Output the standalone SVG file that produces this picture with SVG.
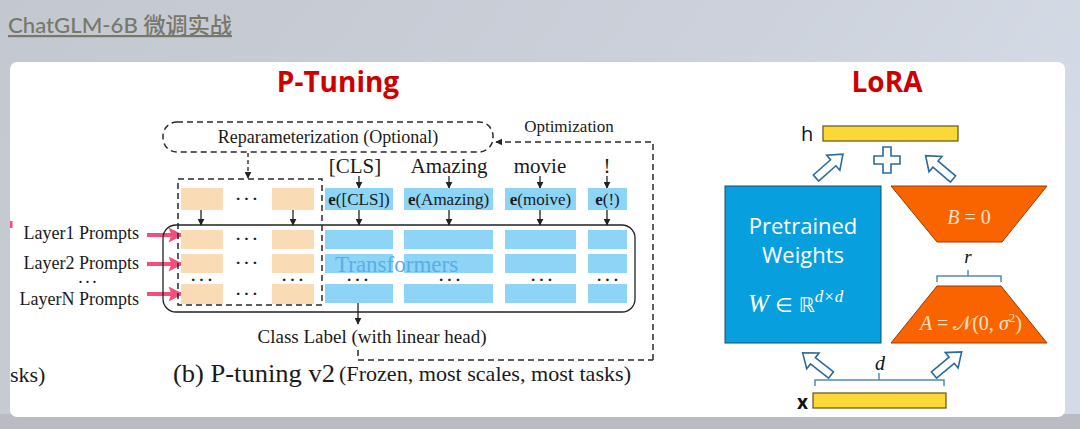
<svg xmlns="http://www.w3.org/2000/svg" width="1080" height="429" viewBox="0 0 1080 429">
<defs>
<linearGradient id="bg" x1="0" y1="0" x2="1" y2="0.3">
<stop offset="0" stop-color="#c3c7cf"/>
<stop offset="0.6" stop-color="#cbd0da"/>
<stop offset="1" stop-color="#d5dbe6"/>
</linearGradient>
<marker id="ah" viewBox="0 0 10 10" refX="9" refY="5" markerWidth="7" markerHeight="7" orient="auto" markerUnits="userSpaceOnUse">
<path d="M0,0 L10,5 L0,10 z" fill="#222"/>
</marker>
<marker id="pk" viewBox="0 0 10 10" refX="9" refY="5" markerWidth="16" markerHeight="15" orient="auto" markerUnits="userSpaceOnUse">
<path d="M0,0 L10,5 L0,10 L2,5 z" fill="#f0507a"/>
</marker>
<path id="blk" d="M0,-4 L23,-4 L23,-10 L36,0 L23,10 L23,4 L0,4 z"/>
</defs>
<style>
.serif{font-family:"Liberation Serif","Times New Roman",serif;fill:#1a1a1a}
.sans{font-family:"Open Sans","Noto Sans",sans-serif}
.dots{font-family:"Liberation Serif",serif;font-size:22px;letter-spacing:1px;fill:#1a1a1a;text-anchor:middle}
.dash{fill:none;stroke:#2a2a2a;stroke-width:1.5;stroke-dasharray:6 4}
.ln{fill:none;stroke:#222;stroke-width:1.3}
.blue{fill:#8dd4f6}
.peach{fill:#f9dcb6}
.pink{fill:none;stroke:#f0507a;stroke-width:4}
.hol{fill:#fff;stroke:#2c6a9c;stroke-width:1.6}
.trap{fill:#fa6400;stroke:#9a3a00;stroke-width:1}
.bar{fill:#fbd737;stroke:#6e6020;stroke-width:1.3}
.brace{fill:none;stroke:#5a86b8;stroke-width:1.5}
.mathw{font-family:"Liberation Serif","DejaVu Serif",serif;font-style:italic}
</style>
<rect x="0" y="0" width="1080" height="429" fill="url(#bg)"/>
<rect x="0" y="414" width="1080" height="15" fill="#b9bcc3"/>
<text x="8" y="33" font-family="Lato,'Noto Sans CJK SC',sans-serif" font-size="22" font-weight="500" fill="#78776a" text-decoration="underline" textLength="224" lengthAdjust="spacingAndGlyphs">ChatGLM-6B 微调实战</text>
<rect x="10" y="62" width="1055" height="355" rx="7" fill="#ffffff"/>

<text x="338" y="92" text-anchor="middle" font-family="'Open Sans','Noto Sans',sans-serif" font-weight="bold" font-size="28" fill="#cc0000">P-Tuning</text>
<text x="887" y="92" text-anchor="middle" font-family="'Open Sans','Noto Sans',sans-serif" font-weight="bold" font-size="28" fill="#cc0000">LoRA</text>

<g id="left-cut">
<rect x="10" y="221" width="2.5" height="7" fill="#f0507a"/>
<text x="10" y="382" class="serif" font-size="22">sks)</text>
</g>

<g id="connectors">
<line x1="248" y1="153" x2="248" y2="178" class="ln" stroke-dasharray="4 3" marker-end="url(#ah)"/>
<path d="M653,360 L653,142 L496,142" class="dash" marker-end="url(#ah)"/>
<path d="M358,350 L358,360 L653,360" class="dash"/>
<line x1="359" y1="176" x2="359" y2="188" class="ln" marker-end="url(#ah)"/>
<line x1="449" y1="176" x2="449" y2="188" class="ln" marker-end="url(#ah)"/>
<line x1="540" y1="176" x2="540" y2="188" class="ln" marker-end="url(#ah)"/>
<line x1="607" y1="176" x2="607" y2="188" class="ln" marker-end="url(#ah)"/>
<line x1="359" y1="210" x2="359" y2="225" class="ln" marker-end="url(#ah)"/>
<line x1="449" y1="210" x2="449" y2="225" class="ln" marker-end="url(#ah)"/>
<line x1="540" y1="210" x2="540" y2="225" class="ln" marker-end="url(#ah)"/>
<line x1="607" y1="210" x2="607" y2="225" class="ln" marker-end="url(#ah)"/>
<line x1="201" y1="210" x2="201" y2="225" class="ln" marker-end="url(#ah)"/>
<line x1="293" y1="210" x2="293" y2="225" class="ln" marker-end="url(#ah)"/>
<line x1="358" y1="303" x2="358" y2="324" class="ln" marker-end="url(#ah)"/>
<line x1="147" y1="235" x2="182" y2="235" class="pink" marker-end="url(#pk)"/>
<line x1="147" y1="264" x2="182" y2="264" class="pink" marker-end="url(#pk)"/>
<line x1="147" y1="294" x2="182" y2="294" class="pink" marker-end="url(#pk)"/>
</g>

<g id="reparam">
<rect x="163" y="122" width="330" height="30" rx="14" class="dash"/>
<text x="328" y="143" text-anchor="middle" class="serif" font-size="18">Reparameterization (Optional)</text>
</g>
<text x="569" y="132" text-anchor="middle" class="serif" font-size="17">Optimization</text>

<g id="tokens" class="serif" font-size="21">
<text x="355" y="173" text-anchor="middle">[CLS]</text>
<text x="449" y="173" text-anchor="middle">Amazing</text>
<text x="540" y="173" text-anchor="middle">movie</text>
<text x="607" y="173" text-anchor="middle">!</text>
</g>

<g id="embeddings">
<rect x="325" y="188" width="68" height="22" class="blue"/>
<rect x="404" y="188" width="89" height="22" class="blue"/>
<rect x="505" y="188" width="71" height="22" class="blue"/>
<rect x="588" y="188" width="39" height="22" class="blue"/>
<g class="serif" font-size="17" text-anchor="middle">
<text x="359" y="205"><tspan font-weight="bold">e</tspan>([CLS])</text>
<text x="448.5" y="205"><tspan font-weight="bold">e</tspan>(Amazing)</text>
<text x="540.5" y="205"><tspan font-weight="bold">e</tspan>(moive)</text>
<text x="607.5" y="205"><tspan font-weight="bold">e</tspan>(!)</text>
</g>
</g>

<g id="transformers">
<rect x="163" y="225" width="472" height="87" rx="13" class="ln" stroke-width="1.6"/>
<g class="blue">
<rect x="325" y="230" width="68" height="19"/><rect x="404" y="230" width="89" height="19"/><rect x="505" y="230" width="71" height="19"/><rect x="588" y="230" width="39" height="19"/>
<rect x="325" y="254" width="68" height="19"/><rect x="404" y="254" width="89" height="19"/><rect x="505" y="254" width="71" height="19"/><rect x="588" y="254" width="39" height="19"/>
<rect x="325" y="284" width="68" height="19"/><rect x="404" y="284" width="89" height="19"/><rect x="505" y="284" width="71" height="19"/><rect x="588" y="284" width="39" height="19"/>
</g>
<text x="335" y="272" class="serif" font-size="23" style="fill:#5aaee6">Transformers</text>
<g class="dots">
<text x="358" y="287">···</text><text x="450" y="287">···</text><text x="542" y="287">···</text><text x="608" y="287">···</text>
</g>
</g>

<g id="prompts">
<rect x="178" y="179" width="144" height="126" class="dash"/>
<g class="peach">
<rect x="181" y="188" width="42" height="22"/><rect x="272" y="188" width="42" height="22"/>
<rect x="181" y="230" width="42" height="19"/><rect x="272" y="230" width="42" height="19"/>
<rect x="181" y="254" width="42" height="19"/><rect x="272" y="254" width="42" height="19"/>
<rect x="181" y="284" width="42" height="20"/><rect x="272" y="284" width="42" height="20"/>
</g>
<g class="dots">
<text x="247" y="206">···</text>
<text x="247" y="246">···</text>
<text x="247" y="270">···</text>
<text x="202" y="287">···</text><text x="293" y="287">···</text>
<text x="247" y="301">···</text>
</g>
</g>

<g id="layer-labels" class="serif" font-size="18" text-anchor="end">
<text x="139" y="239">Layer1 Prompts</text>
<text x="139" y="269">Layer2 Prompts</text>
<text x="88" y="288" class="dots" style="font-size:18px">···</text>
<text x="139" y="305">LayerN Prompts</text>
</g>

<text x="372" y="343" text-anchor="middle" class="serif" font-size="19">Class Label (with linear head)</text>
<text x="173" y="382" class="serif" font-size="26" textLength="162" lengthAdjust="spacingAndGlyphs">(b) P-tuning v2</text>
<text x="339" y="381" class="serif" font-size="21" textLength="292" lengthAdjust="spacingAndGlyphs">(Frozen, most scales, most tasks)</text>

<!-- LoRA -->
<g id="h">
<text x="801" y="141" class="sans" font-size="20" fill="#111">h</text>
<rect x="823" y="126" width="135" height="15" class="bar"/>
</g>
<g id="sum-arrows">
<use href="#blk" class="hol" transform="translate(816,178) rotate(-41.5)"/>
<use href="#blk" class="hol" transform="translate(953,179) rotate(-139.6)"/>
<path d="M883,147 h8 v9 h9 v8 h-9 v9 h-8 v-9 h-9 v-8 h9 z" class="hol"/>
</g>
<g id="pretrained">
<rect x="725" y="186" width="156" height="157" fill="#089fdf" stroke="#1a4a66" stroke-width="1"/>
<text x="803" y="234" text-anchor="middle" class="sans" font-size="22" fill="#fff">Pretrained</text>
<text x="803" y="263" text-anchor="middle" class="sans" font-size="22" fill="#fff">Weights</text>
<text x="748" y="312" class="mathw" font-size="25" fill="#fff">W <tspan font-style="normal" font-family="'DejaVu Sans',sans-serif" font-size="20">∈ ℝ</tspan><tspan font-size="17" dy="-10">d×d</tspan></text>
</g>
<g id="B">
<polygon points="891,186 1047,186 1002,242 937,242" class="trap"/>
<text x="969" y="224" text-anchor="middle" class="mathw" font-size="20" fill="#fde2c8">B <tspan font-style="normal">= 0</tspan></text>
</g>
<g id="r">
<text x="968" y="263" text-anchor="middle" class="mathw" font-size="19" fill="#111">r</text>
<path d="M937,282 L937,276 L1001,276 L1001,282 M968,276 L968,270" class="brace"/>
</g>
<g id="A">
<polygon points="937,286 1001,286 1047,343 891,343" class="trap"/>
<text x="971" y="330" text-anchor="middle" class="mathw" font-size="20" fill="#fde2c8">A <tspan font-style="normal">= 𝒩(0, </tspan>σ<tspan font-style="normal"><tspan font-size="13" dy="-8">2</tspan><tspan dy="8">)</tspan></tspan></text>
</g>
<g id="input-arrows">
<use href="#blk" class="hol" transform="translate(831,375) rotate(-142)"/>
<use href="#blk" class="hol" transform="translate(934,375) rotate(-39.8)"/>
</g>
<g id="d">
<text x="880" y="370" text-anchor="middle" class="mathw" font-size="20" fill="#111">d</text>
<path d="M815,386 L815,380 L944,380 L944,386 M879,380 L879,373" class="brace"/>
</g>
<g id="x">
<text x="797" y="409" class="sans" font-size="19" font-weight="bold" fill="#111">x</text>
<rect x="813" y="393" width="133" height="15" class="bar"/>
</g>
</svg>
